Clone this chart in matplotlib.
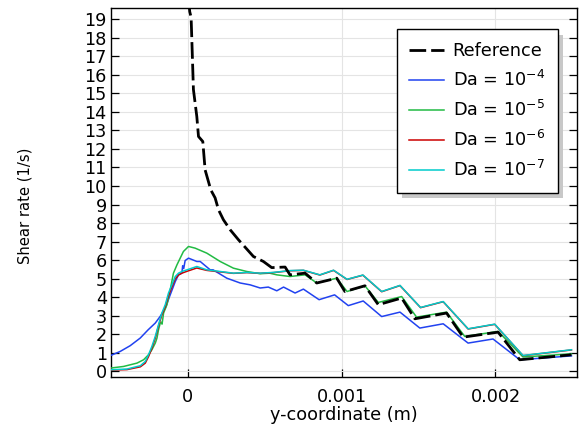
import matplotlib
matplotlib.use("Agg")
import matplotlib.pyplot as plt
import matplotlib.patheffects as pe

# Shear rate profiles along the y-coordinate for several Darcy numbers
ref_x = [0.0, 0.000012, 0.000021, 0.000036, 0.000058, 0.000069, 0.000097, 0.000112,
         0.000149, 0.000177, 0.000199, 0.000231, 0.000275, 0.000329, 0.000383, 0.000426,
         0.000491, 0.000545, 0.000632, 0.000664, 0.000762, 0.000838, 0.000968, 0.001021,
         0.001151, 0.001238, 0.00139, 0.001476, 0.001682, 0.00179, 0.002017, 0.002158,
         0.002494]
ref_y = [20.5, 19.4, 19.1, 15.2, 13.75, 12.67, 12.4, 10.87,
         9.79, 9.36, 8.72, 8.18, 7.64, 7.10, 6.60, 6.20,
         5.93, 5.60, 5.63, 5.21, 5.30, 4.77, 5.03, 4.31,
         4.62, 3.60, 3.96, 2.84, 3.15, 1.85, 2.12, 0.63,
         0.90]

da4_x = [-0.000505, -0.00044, -0.000375, -0.00031, -0.000258, -0.000212, -0.00018, -0.000147,
         -0.000115, -0.000082, -0.000061, -0.000039, -0.000034, -0.000027, -0.000018, 0.000004,
         0.000058, 0.00008, 0.000145, 0.000164, 0.000253, 0.00034, 0.000405, 0.00047,
         0.000523, 0.000578, 0.000622, 0.000697, 0.000751, 0.000853, 0.000954, 0.001043,
         0.00114, 0.00126, 0.001379, 0.001508, 0.00166, 0.001822, 0.001984, 0.002158,
         0.002494]
da4_y = [0.85, 1.08, 1.39, 1.80, 2.25, 2.61, 2.97, 3.42,
         4.13, 4.85, 5.21, 5.30, 5.70, 5.55, 5.98, 6.11,
         5.93, 5.93, 5.48, 5.48, 5.03, 4.77, 4.67, 4.50,
         4.55, 4.35, 4.55, 4.23, 4.44, 3.87, 4.13, 3.55,
         3.80, 2.96, 3.20, 2.34, 2.57, 1.53, 1.75, 0.63,
         0.84]

da5_x = [-0.000505, -0.000418, -0.000331, -0.000288, -0.000256, -0.000234, -0.000212, -0.000201,
         -0.000191, -0.00018, -0.000172, -0.000168, -0.000158, -0.000136, -0.000115, -0.000094,
         -0.000071, -0.00005, -0.000029, -0.000018, 0.000004, 0.000047, 0.000123, 0.00021,
         0.000296, 0.000383, 0.00047, 0.000532, 0.000578, 0.000664, 0.000762, 0.000838,
         0.000968, 0.001035, 0.001151, 0.001238, 0.00139, 0.001487, 0.001682, 0.0018,
         0.002017, 0.002179, 0.002494]
da5_y = [0.18, 0.27, 0.45, 0.63, 0.90, 1.17, 1.53, 1.80,
         2.25, 2.60, 2.65, 2.55, 3.15, 3.60, 4.40, 5.30,
         5.75, 6.11, 6.47, 6.56, 6.74, 6.65, 6.38, 5.93,
         5.57, 5.39, 5.27, 5.30, 5.21, 5.12, 5.21, 4.77,
         5.03, 4.31, 4.62, 3.72, 4.04, 2.93, 3.20, 1.89,
         2.16, 0.78, 0.95]

da7_x = [-0.000505, -0.000396, -0.000309, -0.000277, -0.000256, -0.000234, -0.000212, -0.000191,
         -0.000169, -0.000147, -0.000126, -0.000104, -0.000082, -0.000061, -0.000039, -0.000006,
         0.000058, 0.000123, 0.00021, 0.000296, 0.000383, 0.00047, 0.000556, 0.000664,
         0.000751, 0.000858, 0.000947, 0.001035, 0.001138, 0.00126, 0.001379, 0.001513,
         0.00166, 0.001822, 0.001995, 0.002179, 0.002494]
da7_y = [0.09, 0.13, 0.31, 0.54, 0.90, 1.35, 1.89, 2.52,
         3.15, 3.60, 4.23, 4.67, 5.12, 5.30, 5.39, 5.48,
         5.66, 5.48, 5.39, 5.30, 5.34, 5.30, 5.34, 5.44,
         5.46, 5.21, 5.46, 4.97, 5.20, 4.31, 4.64, 3.45,
         3.77, 2.30, 2.55, 0.86, 1.17]

da6_x = da7_x
da6_y = [0.07, 0.10, 0.25, 0.45, 0.80, 1.25, 1.80, 2.45,
         3.05, 3.50, 4.10, 4.55, 5.00, 5.20, 5.30, 5.40,
         5.58, 5.45, 5.37, 5.29, 5.33, 5.29, 5.33, 5.43,
         5.45, 5.20, 5.45, 4.96, 5.19, 4.30, 4.63, 3.44,
         3.76, 2.29, 2.54, 0.85, 1.16]

labels = ["Reference", "Da = 10$^{\\mathregular{-4}}$", "Da = 10$^{\\mathregular{-5}}$",
          "Da = 10$^{\\mathregular{-6}}$", "Da = 10$^{\\mathregular{-7}}$"]
colors = ["black", "#2142f0", "#22bb44", "#cc0000", "#00cccc"]

xticks = [0, 0.001, 0.002]
xtick_labels = ["0", "0.001", "0.002"]
yticks = list(range(0, 20))

plt.rcParams["font.family"] = "DejaVu Sans"
plt.rcParams["mathtext.fontset"] = "dejavusans"

fs = 12.7

fig = plt.figure(figsize=(5.82, 4.25), dpi=100)
ax = fig.add_axes([0.1907, 0.1129, 0.8007, 0.8683])

lw = 1.1
ax.plot(da4_x, da4_y, color=colors[1], lw=lw, label=labels[1], zorder=3)
ax.plot(da5_x, da5_y, color=colors[2], lw=lw, label=labels[2], zorder=3)
ax.plot(da6_x, da6_y, color=colors[3], lw=lw, label=labels[3], zorder=3)
ax.plot(da7_x, da7_y, color=colors[4], lw=lw, label=labels[4], zorder=3)
ax.plot(ref_x, ref_y, color=colors[0], lw=2.0, dashes=(6, 1.8), label=labels[0], zorder=4)

ax.set_xlim(-0.0005, 0.00253)
ax.set_ylim(-0.3, 19.6)
ax.set_xticks(xticks)
ax.set_xticklabels(xtick_labels)
ax.set_yticks(yticks)

ax.grid(True, color="#e4e4e4", lw=0.8, zorder=0)
ax.set_axisbelow(True)
ax.tick_params(axis="both", direction="in", length=6, width=0.9, labelsize=fs,
               colors="black")
ax.tick_params(axis="y", right=True, pad=3)
ax.tick_params(axis="x", pad=8)
for s in ax.spines.values():
    s.set_linewidth(1.0)
    s.set_color("black")

ax.set_xlabel("y-coordinate (m)", fontsize=fs, labelpad=0)
fig.text(25 / 582, 1 - 206 / 425, "Shear rate (1/s)", rotation=90, fontsize=10.6,
         ha="center", va="center")

handles, labs = ax.get_legend_handles_labels()
order = [4, 0, 1, 2, 3]
leg = ax.legend([handles[i] for i in order], [labs[i] for i in order],
                loc="upper right", bbox_to_anchor=(0.9585, 0.942), fontsize=fs,
                frameon=True, fancybox=False, shadow=False, framealpha=1,
                edgecolor="black", handlelength=1.95, handletextpad=0.5,
                labelspacing=0.56, borderpad=0.72, borderaxespad=0)
leg.get_frame().set_linewidth(1.0)
leg.get_frame().set_path_effects([pe.SimplePatchShadow(offset=(4, -4), shadow_rgbFace="#c8c8c8",
                                                       alpha=1.0), pe.Normal()])
leg.set_zorder(10)

fig.savefig("out.png", dpi=100)
